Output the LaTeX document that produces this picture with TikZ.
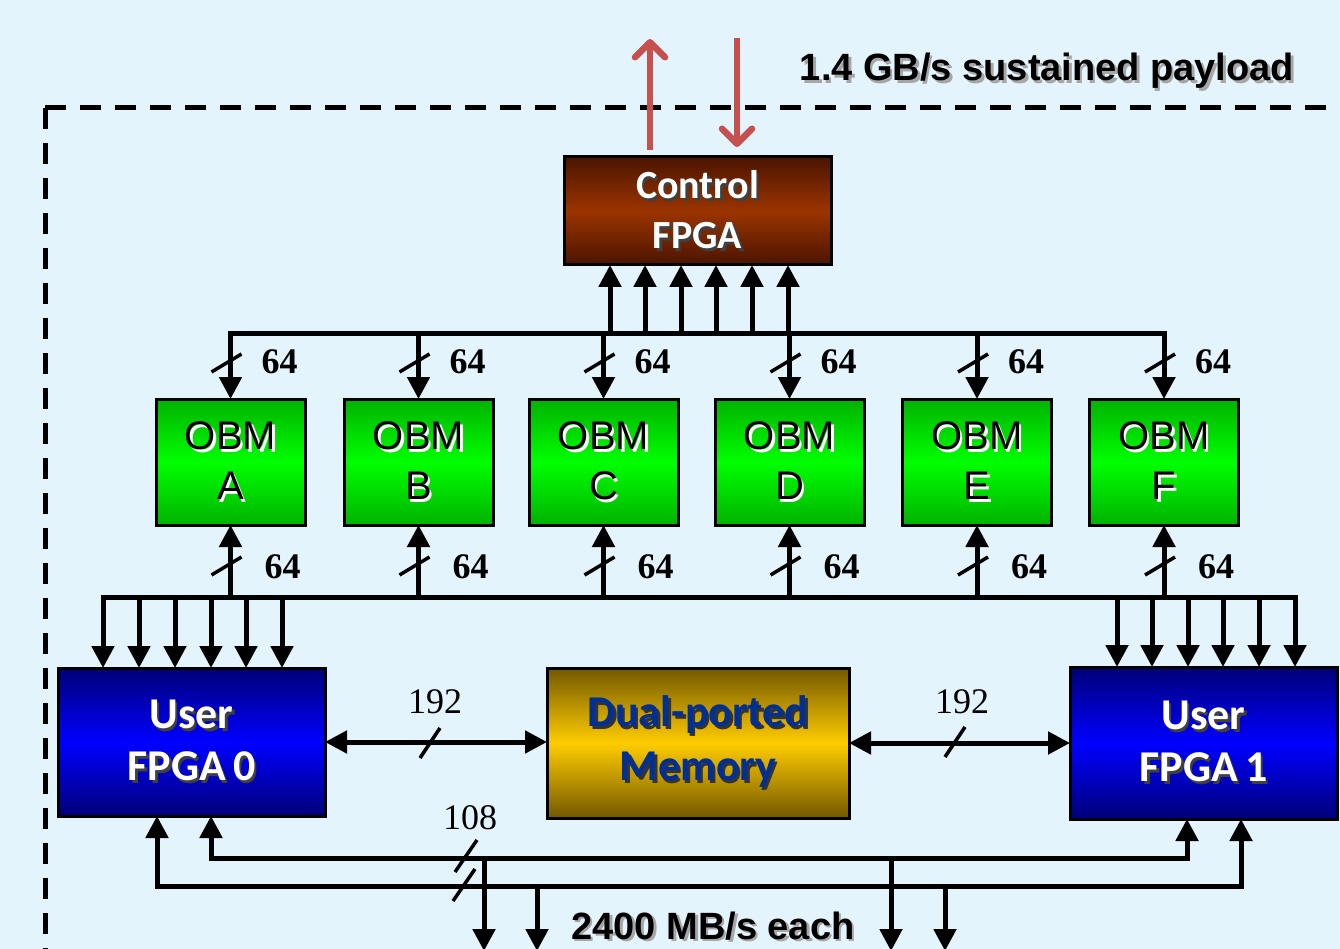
\documentclass[tikz,border=0pt]{standalone}
\usepackage{fontspec}
\setmainfont{Liberation Serif}
\newfontfamily\calib{Carlito}
\newfontfamily\arial{Liberation Sans}
\usetikzlibrary{arrows.meta,calc}

\definecolor{bg}{RGB}{227,244,253}
\definecolor{ctrlDark}{RGB}{74,20,0}
\definecolor{ctrlMid}{RGB}{155,52,0}
\definecolor{obmDark}{RGB}{0,178,0}
\definecolor{obmMid}{RGB}{0,255,0}
\definecolor{usrDark}{RGB}{0,0,120}
\definecolor{usrMid}{RGB}{0,0,255}
\definecolor{memDark}{RGB}{115,88,0}
\definecolor{memMid}{RGB}{255,204,0}
\definecolor{memText}{RGB}{0,48,150}
\definecolor{hostRed}{RGB}{198,80,77}

% text with a small drop shadow to the lower right
\newcommand\drop[2]{\leavevmode\rlap{\hspace{2.5pt}\raisebox{-2.5pt}{\textcolor{#1}{#2}}}#2}

\tikzset{
  box/.style={draw=black, line width=3pt, inner sep=0pt, outer sep=0pt, align=center},
  ctrlbox/.style={box, minimum width=267pt, minimum height=108pt,
    top color=ctrlDark, bottom color=ctrlDark, middle color=ctrlMid,
    text=white, font=\calib\bfseries\fontsize{40}{50}\selectfont},
  obmbox/.style={box, minimum width=149pt, minimum height=126pt,
    top color=obmDark, bottom color=obmDark, middle color=obmMid,
    text=black, font=\arial\fontsize{40}{50}\selectfont},
  usrbox/.style={box, minimum width=267pt,
    top color=usrDark, bottom color=usrDark, middle color=usrMid,
    text=white, font=\calib\bfseries\fontsize{44}{52}\selectfont},
  membox/.style={box, minimum width=302pt, minimum height=150pt,
    top color=memDark, bottom color=memDark, middle color=memMid,
    text=memText, font=\calib\bfseries\fontsize{44}{54}\selectfont},
  bus/.style={line width=5pt, line cap=rect},
  arr/.style={line width=5pt, -{Triangle[length=22pt,width=22pt]}},
  dblarr/.style={line width=5pt, {Triangle[length=22pt,width=22pt]}-{Triangle[length=22pt,width=22pt]}},
  redarr/.style={line width=6.5pt, draw=hostRed, -{Straight Barb[length=15pt,width=30pt,round]}},
  slashmark/.style={line width=3.5pt},
  frame/.style={line width=5pt, dash pattern=on 21pt off 14pt},
  num/.style={inner sep=0pt, font=\fontsize{36}{40}\selectfont},
  numb/.style={num, font=\bfseries\fontsize{36}{40}\selectfont},
  rate/.style={inner sep=0pt, font=\arial\bfseries\fontsize{38}{44}\selectfont},
}

\begin{document}
\begin{tikzpicture}[x=1pt,y=-1pt]
  % background and page extent
  \fill[bg] (0,0) rectangle (1340,949);
  \useasboundingbox (0,0) rectangle (1340,949);

  % board outline (dashed)
  \coordinate (fc) at (45,108);
  \coordinate (fr) at (1342,108);
  \coordinate (fb) at (45,951);
  \draw[frame] (fc) -- (fr);
  \draw[frame] (fc) -- (fb);

  % host link
  \node[rate] (payload) at (1047,72) {\drop{black!35}{1.4 GB/s sustained payload}};

  % control FPGA
  \node[ctrlbox] (ctrl) at (697.5,211) {\drop{black!75}{Control}\\\drop{black!75}{FPGA}};

  \coordinate (hup0) at (650,150);
  \coordinate (hup1) at (650,39);
  \coordinate (hdn0) at (737,38);
  \coordinate (hdn1) at (737,147);
  \draw[redarr] (hup0) -- (hup1);
  \draw[redarr] (hdn0) -- (hdn1);

  % on-board memory banks
  \foreach \n/\x in {A/230.5,B/418.5,C/603.5,D/789.5,E/977,F/1164}
    \node[obmbox] (obm\n) at (\x,462) {\drop{white}{OBM}\\\drop{white}{\n}};

  % user FPGAs and dual-ported memory
  \node[usrbox, minimum height=148pt] (u0) at (191.5,742) {\drop{black!75}{User}\\\drop{black!75}{FPGA\,0}};
  \node[membox] (mem) at (698,743) {\drop{black!80}{Dual-ported}\\\drop{black!80}{Memory}};
  \node[usrbox, minimum height=152pt] (u1) at (1203.5,743) {\drop{black!75}{User}\\\drop{black!75}{FPGA\,1}};

  % upper bus: OBMs to control FPGA
  \coordinate (tb) at (0,333);
  \draw[bus] (obmA.north |- tb) -- (obmF.north |- tb);
  \foreach \x [count=\i] in {610,645,681,716,752,788} {
    \coordinate (cu\i) at (\x,333);
    \draw[arr] (cu\i) -- (cu\i |- ctrl.south);
  }

  % lower bus: user FPGAs to OBMs
  \coordinate (lb) at (0,597);
  \coordinate (lbl) at (103,597);
  \coordinate (lbr) at (1295,597);
  \draw[bus] (lbl) -- (lbr);

  \foreach \n in {A,B,C,D,E,F} {
    \draw[arr] (obm\n.north |- tb) -- (obm\n.north);
    \coordinate (ts\n) at ($(obm\n.north |- tb)+(0,29)$);
    \draw[slashmark] ($(ts\n)+(-19,10)$) -- ($(ts\n)+(11,-8)$);
    \node[numb] (tw\n) at ($(ts\n)+(49,0)$) {64};

    \draw[arr] (obm\n.south |- lb) -- (obm\n.south);
    \coordinate (bs\n) at ($(obm\n.south |- lb)+(0,-32)$);
    \draw[slashmark] ($(bs\n)+(-19,10)$) -- ($(bs\n)+(11,-8)$);
    \node[numb] (bw\n) at ($(bs\n)+(52,2)$) {64};
  }

  \foreach \x [count=\i] in {103,139,175,211,246,282} {
    \coordinate (ul\i) at (\x,597);
    \draw[arr] (ul\i) -- (ul\i |- u0.north);
  }
  \foreach \x [count=\i] in {1117,1152,1188,1223,1259,1295} {
    \coordinate (ur\i) at (\x,597);
    \draw[arr] (ur\i) -- (ur\i |- u1.north);
  }

  % memory ports
  \draw[dblarr] (u0.east) -- (u0.east -| mem.west);
  \coordinate (ml) at (430,743);
  \draw[slashmark] ($(ml)+(-10,15)$) -- ($(ml)+(10,-15)$);
  \node[num] (w192l) at (435,702) {192};

  \draw[dblarr] (mem.east) -- (mem.east -| u1.west);
  \coordinate (mr) at (955,742);
  \draw[slashmark] ($(mr)+(-10,15)$) -- ($(mr)+(10,-15)$);
  \node[num] (w192r) at (962,702) {192};

  % I/O links between the user FPGAs and the outside
  \coordinate (ra) at (211,858);
  \coordinate (rb) at (1187,858);
  \draw[dblarr] (u0.south -| ra) -- (ra) -- (rb) -- (u1.south -| rb);
  \coordinate (sa) at (157,886);
  \coordinate (sb) at (1241,886);
  \draw[dblarr] (u0.south -| sa) -- (sa) -- (sb) -- (u1.south -| sb);

  \coordinate (ia) at (466,856);
  \draw[slashmark] ($(ia)+(-11,16)$) -- ($(ia)+(11,-16)$);
  \coordinate (ib) at (464,885);
  \draw[slashmark] ($(ib)+(-11,16)$) -- ($(ib)+(11,-16)$);
  \node[num] (w108) at (470,818) {108};

  \foreach \x/\y [count=\i] in {484/858,537/886,891/858,945/886} {
    \coordinate (do\i) at (\x,\y);
    \coordinate (de\i) at (\x,951);
    \draw[arr] (do\i) -- (de\i);
  }

  \node[rate] (each) at (713,927) {\drop{black!35}{2400 MB/s each}};
\end{tikzpicture}
\end{document}
